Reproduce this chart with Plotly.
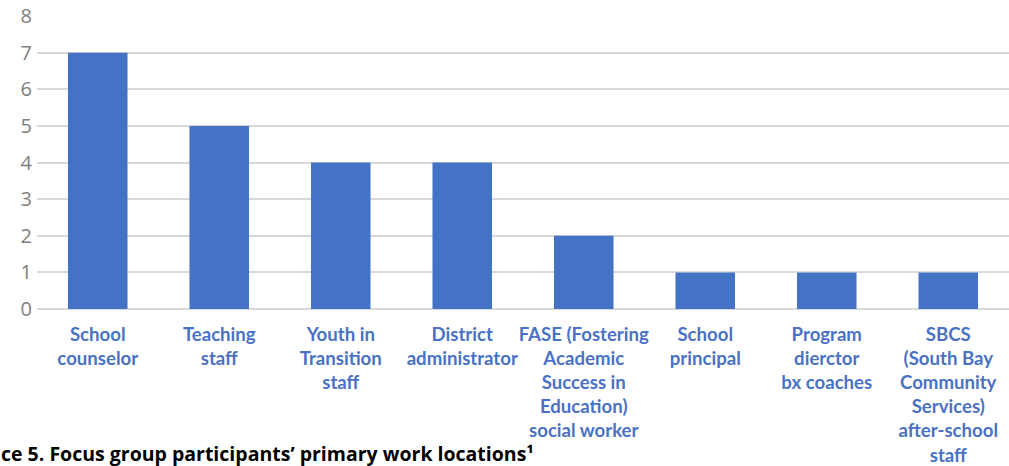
import plotly.graph_objects as go

categories = [
    "School<br>counselor",
    "Teaching<br>staff",
    "Youth in<br>Transition<br>staff",
    "District<br>administrator",
    "FASE (Fostering<br>Academic<br>Success in<br>Education)<br>social worker",
    "School<br>principal",
    "Program<br>dierctor<br>bx coaches",
    "SBCS<br>(South Bay<br>Community<br>Services)<br>after-school<br>staff",
]
values = [7, 5, 4, 4, 2, 1, 1, 1]
y_ticks = [0, 1, 2, 3, 4, 5, 6, 7, 8]
caption = "ce 5. Focus group participants\u2019 primary work locations\u00b9"

fig = go.Figure(
    go.Bar(x=categories, y=values, marker=dict(color="#4472C4", line=dict(width=0)), width=0.49)
)

fig.update_layout(
    width=1009,
    height=466,
    margin=dict(l=37, r=0, t=16, b=157, autoexpand=False),
    plot_bgcolor="white",
    paper_bgcolor="white",
    showlegend=False,
    bargap=0.5,
)
fig.update_xaxes(
    tickvals=categories,
    ticktext=["<b>" + c + "</b>" for c in categories],
    tickfont=dict(family="Lato", size=18.6, color="#4a72c4"),
    tickangle=0,
    showline=False,
    ticks="",
    automargin=False,
    ticklabelstandoff=12,
)
fig.update_yaxes(
    range=[0, 8],
    tickvals=y_ticks,
    tickfont=dict(family="Open Sans", size=20, color="#7f7f7f"),
    gridcolor="#d9d9d9",
    gridwidth=1.5,
    zeroline=True,
    zerolinecolor="#d9d9d9",
    zerolinewidth=1.5,
    showline=False,
    ticks="",
    automargin=False,
    ticklabelstandoff=4,
)
fig.add_annotation(
    text="<b>" + caption + "</b>",
    xref="paper", yref="paper",
    x=-37 / 972, y=-159 / 293,
    xanchor="left", yanchor="bottom",
    showarrow=False,
    font=dict(family="Open Sans", size=19.5, color="black"),
    borderpad=0,
)

fig.write_html(
    "out.html",
    config={"displayModeBar": False},
    post_script="document.body.style.margin='0';document.body.style.overflow='hidden';",
)
